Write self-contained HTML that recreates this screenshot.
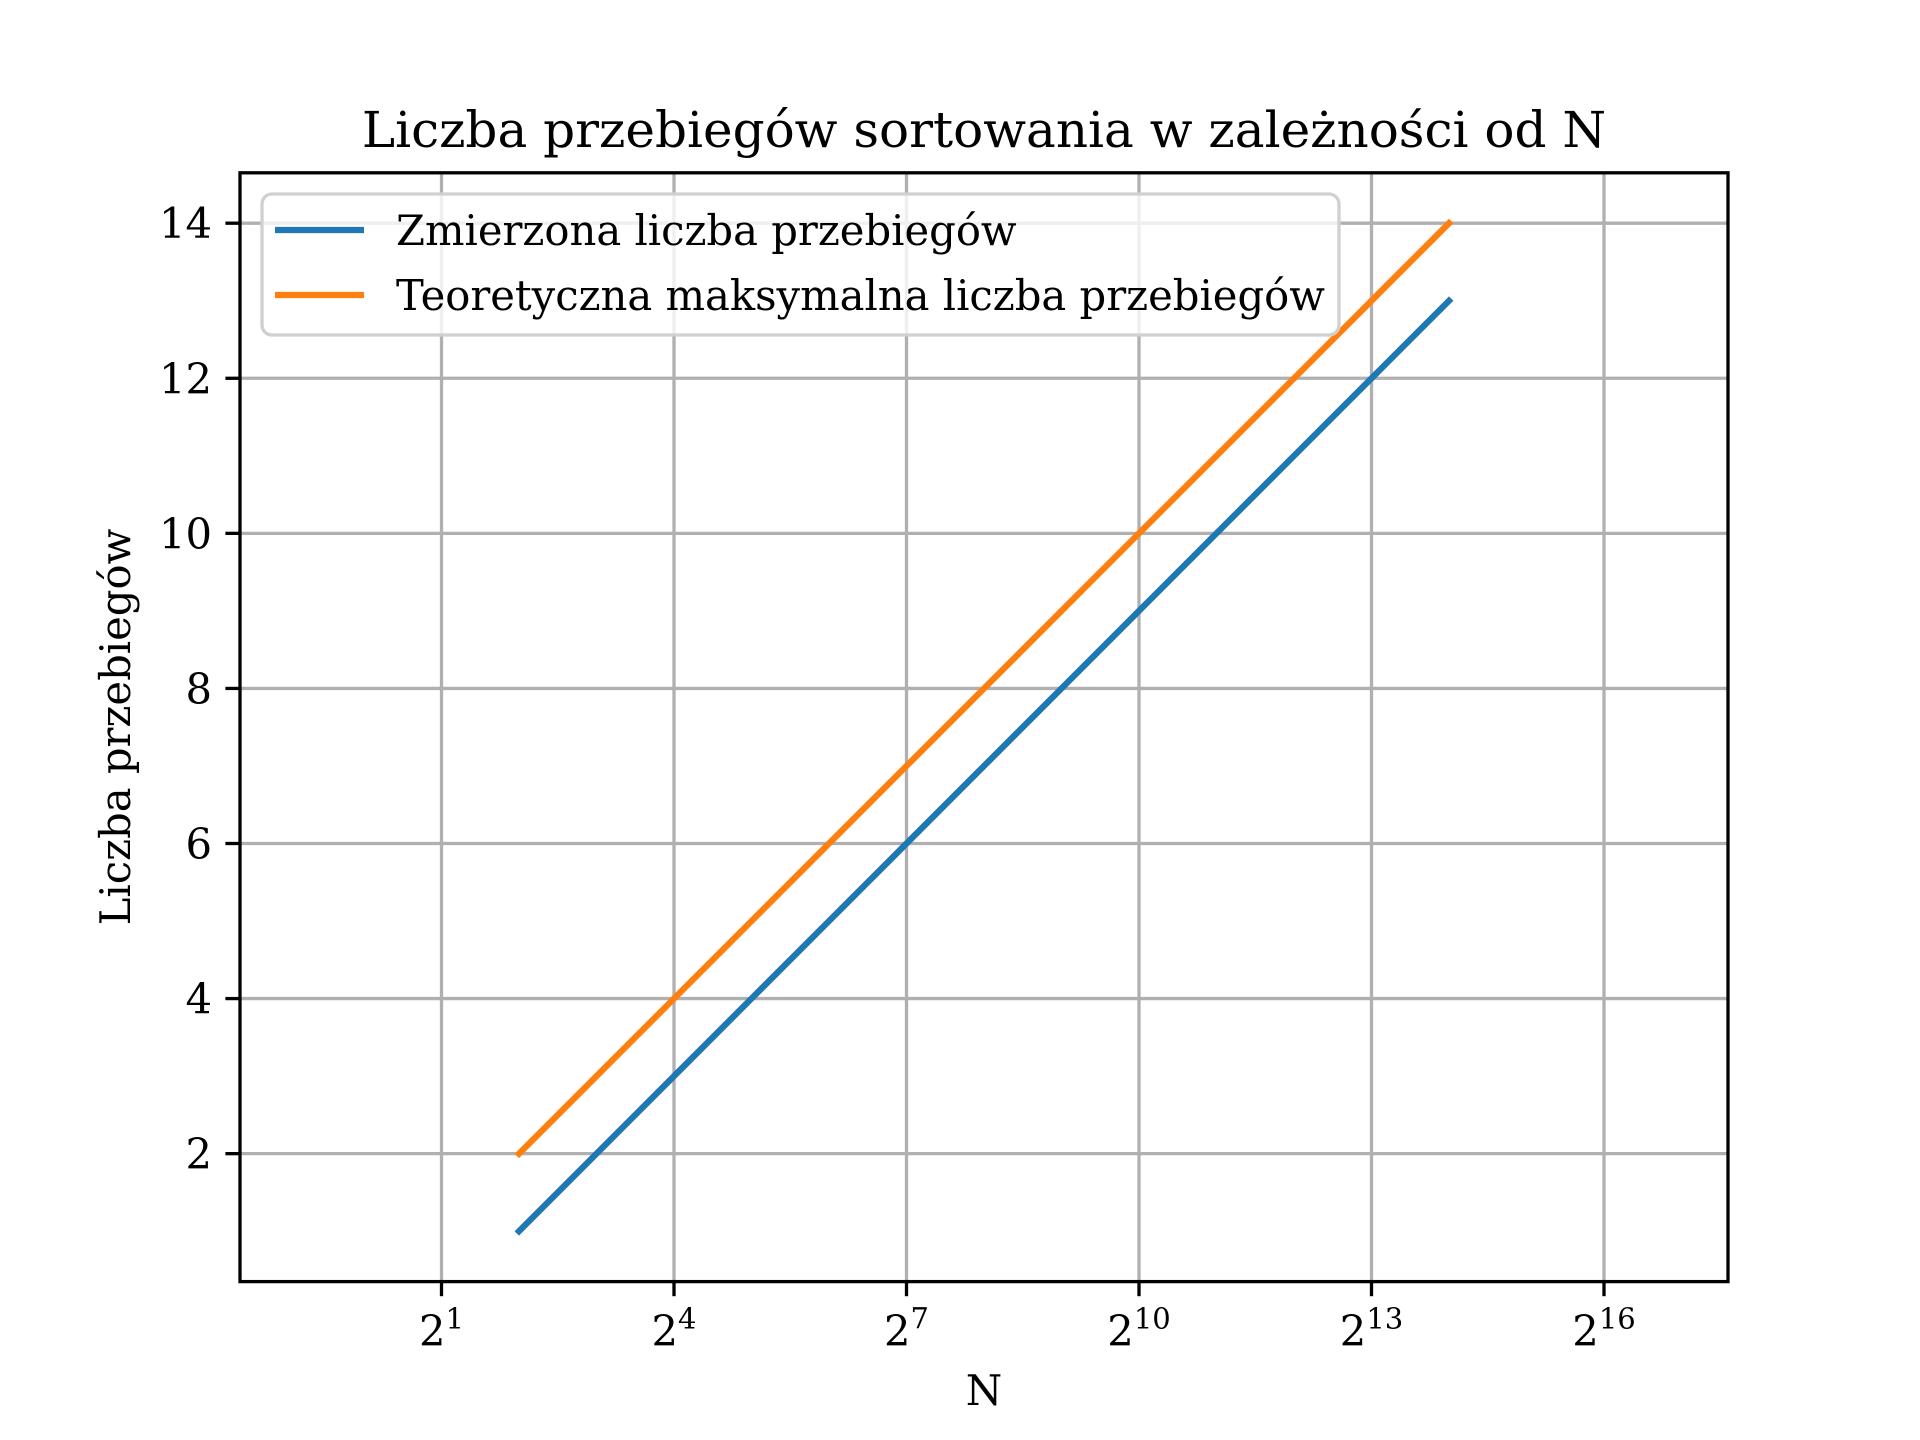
<!DOCTYPE html>
<html><head><meta charset="utf-8"><style>
body{margin:0;background:#fff}
svg{display:block}
text{font-family:"DejaVu Serif","Liberation Serif",serif;fill:#000}
</style></head><body>
<svg id="chart" width="1920" height="1440" viewBox="0 0 1920 1440">
<rect width="1920" height="1440" fill="#fff"/>
<g id="grid"></g>
<g id="series"></g>
<g id="axes"></g>
<text x="984" y="147" font-size="50" text-anchor="middle">Liczba przebiegów sortowania w zależności od N</text>
<text x="984" y="1405" font-size="41.7" text-anchor="middle">N</text>
<text transform="translate(130,727) rotate(-90)" font-size="41.7" text-anchor="middle">Liczba przebiegów</text>
<g id="legend">
<rect x="262" y="194" width="1077" height="141" rx="10" fill="#fff" fill-opacity="0.8" stroke="#d0d0d0" stroke-width="3.3"/>
<line x1="275" y1="230" x2="364" y2="230" stroke="#1f77b4" stroke-width="6.25"/>
<text x="396" y="245" font-size="41.7">Zmierzona liczba przebiegów</text>
<line x1="275" y1="295" x2="364" y2="295" stroke="#ff7f0e" stroke-width="6.25"/>
<text x="396" y="310" font-size="41.7">Teoretyczna maksymalna liczba przebiegów</text>
</g>
</svg>
<script>
const xExponents=[2,3,4,5,6,7,8,9,10,11,12,13,14];
const measured=[1,2,3,4,5,6,7,8,9,10,11,12,13];
const theoretical=[2,3,4,5,6,7,8,9,10,11,12,13,14];
const xTickExps=[1,4,7,10,13,16];
const yTicks=[2,4,6,8,10,12,14];

const L=240,R=1728,T=172.8,B=1281.6;
const xMin=-1.6,xMax=17.6,yMin=0.35,yMax=14.65;
const NS="http://www.w3.org/2000/svg";
function sx(e){return L+(e-xMin)/(xMax-xMin)*(R-L);}
function sy(v){return B-(v-yMin)/(yMax-yMin)*(B-T);}
function mk(tag,attrs,parent){const el=document.createElementNS(NS,tag);for(const k in attrs)el.setAttribute(k,attrs[k]);parent.appendChild(el);return el;}
const grid=document.getElementById('grid'),axes=document.getElementById('axes'),series=document.getElementById('series');

xTickExps.forEach(e=>{
  const x=sx(e);
  const g=mk('line',{x1:x,y1:T,x2:x,y2:B,stroke:'#b0b0b0','stroke-width':3.3},grid);
  
  
  const t=mk('line',{x1:x,y1:B,x2:x,y2:B+14.6,stroke:'#000','stroke-width':3.3},axes);
  
  
  const tx=mk('text',{x:x,y:B+64,'font-size':41.7,'text-anchor':'middle'},axes);
  
  
  const b=document.createElementNS(NS,'tspan');b.textContent='2';tx.appendChild(b);
  const s=document.createElementNS(NS,'tspan');s.textContent=String(e);s.setAttribute('font-size','29');s.setAttribute('dy','-17');tx.appendChild(s);
});
yTicks.forEach(v=>{
  const y=sy(v);
  const g=mk('line',{x1:L,y1:y,x2:R,y2:y,stroke:'#b0b0b0','stroke-width':3.3},grid);
  
  
  const t=mk('line',{x1:L-14.6,y1:y,x2:L,y2:y,stroke:'#000','stroke-width':3.3},axes);
  
  
  const tx=mk('text',{x:L-28,y:y+15,'font-size':41.7,'text-anchor':'end'},axes);
  
  
  tx.textContent=String(v);
});
function line(vals,color,name){
  const pts=xExponents.map((e,i)=>sx(e).toFixed(2)+','+sy(vals[i]).toFixed(2)).join(' ');
  const p=mk('polyline',{points:pts,fill:'none',stroke:color,'stroke-width':6.25,'stroke-linecap':'square'},series);
  
  
}
line(measured,'#1f77b4','measured-line');
line(theoretical,'#ff7f0e','theoretical-line');
const fr=mk('rect',{x:L,y:T,width:R-L,height:B-T,fill:'none',stroke:'#000','stroke-width':3.3},axes);


</script>
</body></html>
